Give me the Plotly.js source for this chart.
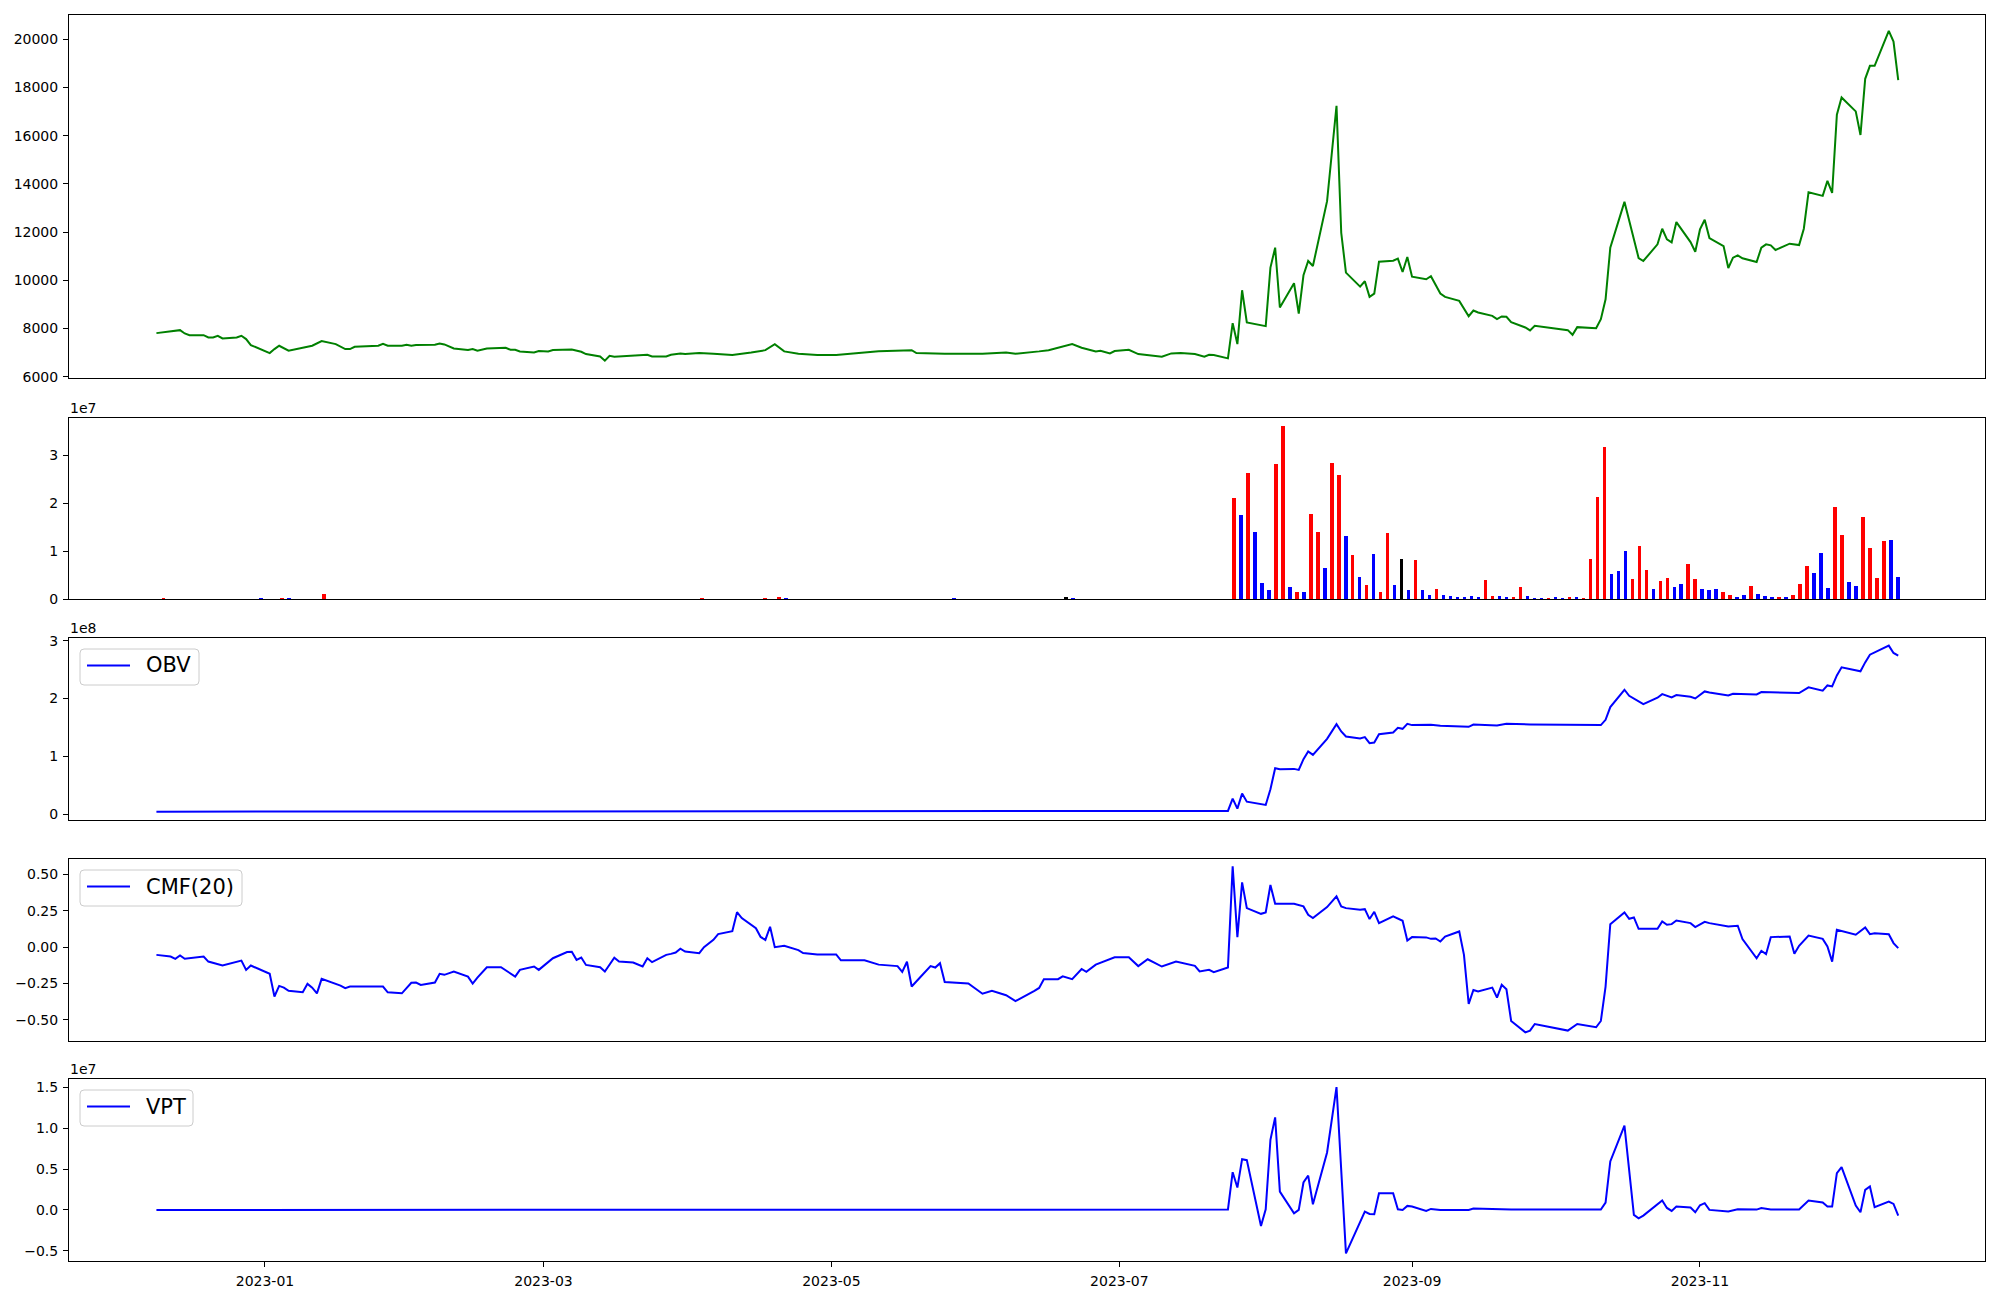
<!DOCTYPE html>
<html><head><meta charset="utf-8">
<script src="https://cdn.plot.ly/plotly-3.0.1.min.js"></script>
<style>html,body{margin:0;padding:0;background:#fff}</style>
</head><body><div id="chart" style="width:2000px;height:1300px"></div>
<script>
// ---------------- DATA ----------------
const priceDates = [
 '2022-12-09','2022-12-12','2022-12-14','2022-12-15','2022-12-16','2022-12-19','2022-12-20','2022-12-21',
 '2022-12-22','2022-12-23','2022-12-26','2022-12-27','2022-12-28','2022-12-29','2023-01-02','2023-01-03',
 '2023-01-04','2023-01-06','2023-01-11','2023-01-13','2023-01-16','2023-01-18','2023-01-19','2023-01-20',
 '2023-01-25','2023-01-26','2023-01-27','2023-01-30','2023-01-31','2023-02-01','2023-02-02','2023-02-06',
 '2023-02-07','2023-02-08','2023-02-10','2023-02-13','2023-02-14','2023-02-15','2023-02-17','2023-02-21',
 '2023-02-22','2023-02-23','2023-02-24','2023-02-27','2023-02-28','2023-03-02','2023-03-03','2023-03-07',
 '2023-03-09','2023-03-10','2023-03-13','2023-03-14','2023-03-15','2023-03-16','2023-03-20','2023-03-21',
 '2023-03-23','2023-03-24','2023-03-27','2023-03-28','2023-03-30','2023-03-31','2023-04-03','2023-04-06',
 '2023-04-10','2023-04-14','2023-04-17','2023-04-19','2023-04-21','2023-04-24','2023-04-28','2023-05-02',
 '2023-05-09','2023-05-11','2023-05-18','2023-05-19','2023-05-25','2023-06-02','2023-06-07','2023-06-09',
 '2023-06-14','2023-06-16','2023-06-21','2023-06-23','2023-06-26','2023-06-27','2023-06-29','2023-06-30',
 '2023-07-03','2023-07-05','2023-07-10','2023-07-12','2023-07-14','2023-07-17','2023-07-19','2023-07-20',
 '2023-07-21','2023-07-24','2023-07-25','2023-07-26','2023-07-27','2023-07-28','2023-08-01','2023-08-02',
 '2023-08-03','2023-08-04','2023-08-07','2023-08-08','2023-08-09','2023-08-10','2023-08-11','2023-08-14',
 '2023-08-16','2023-08-17','2023-08-18','2023-08-21','2023-08-22','2023-08-23','2023-08-24','2023-08-25',
 '2023-08-28','2023-08-29','2023-08-30','2023-08-31','2023-09-01','2023-09-04','2023-09-05','2023-09-07',
 '2023-09-08','2023-09-11','2023-09-13','2023-09-14','2023-09-15','2023-09-18','2023-09-19','2023-09-20',
 '2023-09-21','2023-09-22','2023-09-25','2023-09-26','2023-09-27','2023-10-04','2023-10-05','2023-10-06',
 '2023-10-10','2023-10-11','2023-10-12','2023-10-13','2023-10-16','2023-10-19','2023-10-20','2023-10-23',
 '2023-10-24','2023-10-25','2023-10-26','2023-10-27','2023-10-30','2023-10-31','2023-11-01','2023-11-02',
 '2023-11-03','2023-11-06','2023-11-07','2023-11-08','2023-11-09','2023-11-10','2023-11-13','2023-11-14',
 '2023-11-15','2023-11-16','2023-11-17','2023-11-20','2023-11-22','2023-11-23','2023-11-24','2023-11-27',
 '2023-11-28','2023-11-29','2023-11-30','2023-12-01','2023-12-04','2023-12-05','2023-12-06','2023-12-07',
 '2023-12-08','2023-12-11','2023-12-12','2023-12-13'];
const priceVals = [
 7807,7890,7931,7793,7724,7724,7628,7628,
 7697,7586,7628,7697,7559,7310,6979,7145,
 7283,7076,7283,7476,7352,7145,7145,7241,
 7283,7366,7283,7283,7324,7283,7310,7324,
 7379,7338,7172,7103,7145,7076,7172,7200,
 7117,7117,7048,7007,7062,7048,7103,7131,
 7034,6938,6841,6662,6869,6828,6869,6910,
 6910,6841,6841,6910,6966,6938,6979,6950,
 6900,7000,7100,7350,7050,6950,6900,6900,
 7000,7050,7100,6980,6950,6950,7000,6950,
 7050,7100,7350,7200,7050,7076,6966,7062,
 7117,6938,6828,6966,6979,6938,6828,6910,
 6897,6759,8221,7352,9586,8248,8097,10524,
 11352,8869,9876,8621,10207,10800,10593,13283,
 17241,11972,10317,9738,9959,9310,9448,10772,
 10814,10897,10345,10966,10152,10041,10166,9448,
 9310,9145,8510,8745,8662,8524,8386,8497,
 8483,8262,8041,7917,8110,7931,7738,8055,
 8014,8386,9214,11352,13255,10924,10800,11490,
 12138,11697,11572,12414,11586,11186,12110,12510,
 11752,11421,10510,10938,11034,10910,10759,11352,
 11490,11448,11255,11517,11462,12138,13655,13503,
 14124,13628,16869,17586,17007,16028,18359,18897,
 18897,20345,19903,18303];

// Volume, in millions, one bar per evenly spaced slot between the first and last date
const volStart = '2022-12-09', volEnd = '2023-12-13';
const volM = [
 0,0.25,0,0,0,0,0,0,0,0,
 0,0,0,0,0,0.25,0,0,0.25,0.25,
 0,0,0,0,1.04,0,0,0,0,0,
 0,0,0,0,0,0,0,0,0,0,
 0,0,0,0,0,0,0,0,0,0,
 0,0,0,0,0,0,0,0,0,0,
 0,0,0,0,0,0,0,0,0,0,
 0,0,0,0,0,0,0,0,0.25,0,
 0,0,0,0,0,0,0,0.25,0,0.5,
 0.25,0,0,0,0,0,0,0,0,0,
 0,0,0,0,0,0,0,0,0,0,
 0,0,0,0,0.25,0,0,0,0,0,
 0,0,0,0,0,0,0,0,0,0,
 0.5,0.25,0,0,0,0,0,0,0,0,
 0,0,0,0,0,0,0,0,0,0,
 0,0,0,0,21.09,17.54,26.30,13.99,3.34,1.88,
 28.18,36.12,2.51,1.46,1.46,17.75,13.99,6.47,28.39,25.89,
 13.15,9.19,4.59,2.92,9.39,1.46,13.78,2.92,8.35,1.88,
 8.14,1.88,0.84,2.09,0.84,0.63,0.42,0.42,0.63,0.42,
 3.97,0.63,0.63,0.42,0.42,2.51,0.63,0.21,0.21,0.21,
 0.42,0.21,0.42,0.42,0.21,8.35,21.29,31.73,5.22,5.85,
 10.02,4.18,11.06,6.05,2.09,3.76,4.38,2.51,3.13,7.31,
 4.18,2.09,1.88,2.09,1.46,0.84,0.42,0.84,2.71,1.04,
 0.63,0.42,0.42,0.42,0.84,3.13,6.89,5.43,9.60,2.30,
 19.21,13.36,3.55,2.71,17.12,10.65,4.38,12.11,12.32,4.59];
// u = up (red), d = down (blue), n = unchanged (black)
const volDir = [
 'dudddddddd','ddddddddud','dddduddddd','dddddddddd','dddddddddd',
 'dddddddddd','dddddddddd','ddddddddud','dddddddudu','dddddddddd',
 'dddddddddd','dddddddddd','dddddddddd','nddddddddd','dddddddddd',
 'dddd',
 'ududdduudu','duuduududu','duudnduddu','dddddduudd','uuddduddud',
 'uuuuddduuu','duudduuddd','uuddudddud','uuuddduudd','uuuudd'].join('');

const obvDates = [
 '2022-12-09','2023-01-11','2023-01-12','2023-07-24','2023-07-25','2023-07-26','2023-07-27','2023-07-28',
 '2023-08-01','2023-08-02','2023-08-03','2023-08-04','2023-08-07','2023-08-08','2023-08-09','2023-08-10',
 '2023-08-11','2023-08-14','2023-08-16','2023-08-17','2023-08-18','2023-08-21','2023-08-22','2023-08-23',
 '2023-08-24','2023-08-25','2023-08-28','2023-08-29','2023-08-30','2023-08-31','2023-09-01','2023-09-05',
 '2023-09-07','2023-09-13','2023-09-14','2023-09-19','2023-09-21','2023-09-26','2023-10-11','2023-10-12',
 '2023-10-13','2023-10-16','2023-10-17','2023-10-19','2023-10-20','2023-10-23','2023-10-24','2023-10-26',
 '2023-10-27','2023-10-30','2023-10-31','2023-11-02','2023-11-03','2023-11-07','2023-11-08','2023-11-13',
 '2023-11-14','2023-11-22','2023-11-24','2023-11-27','2023-11-28','2023-11-29','2023-11-30','2023-12-01',
 '2023-12-05','2023-12-06','2023-12-07','2023-12-11','2023-12-12','2023-12-13'];
// OBV in units of 1e8
const obvVals = [
 0.046,0.046,0.058,0.058,0.271,0.098,0.358,0.219,
 0.162,0.433,0.796,0.779,0.785,0.767,0.952,1.085,
 1.027,1.304,1.558,1.431,1.344,1.310,1.333,1.229,
 1.241,1.385,1.414,1.495,1.477,1.564,1.541,1.546,
 1.529,1.512,1.552,1.535,1.564,1.552,1.541,1.633,
 1.852,2.152,2.048,1.950,1.904,2.014,2.077,2.020,
 2.060,2.031,2.002,2.123,2.106,2.054,2.083,2.072,
 2.112,2.095,2.193,2.135,2.227,2.210,2.400,2.539,
 2.470,2.625,2.758,2.914,2.787,2.741];

const cmfDates = [
 '2022-12-09','2022-12-12','2022-12-13','2022-12-14','2022-12-15','2022-12-19','2022-12-20','2022-12-23',
 '2022-12-27','2022-12-28','2022-12-29','2023-01-02','2023-01-03','2023-01-04','2023-01-05','2023-01-06',
 '2023-01-09','2023-01-10','2023-01-11','2023-01-12','2023-01-13','2023-01-16','2023-01-17','2023-01-18',
 '2023-01-19','2023-01-26','2023-01-27','2023-01-30','2023-02-01','2023-02-02','2023-02-03','2023-02-06',
 '2023-02-07','2023-02-08','2023-02-10','2023-02-13','2023-02-14','2023-02-15','2023-02-17','2023-02-20',
 '2023-02-23','2023-02-24','2023-02-27','2023-02-28','2023-03-03','2023-03-06','2023-03-07','2023-03-08',
 '2023-03-09','2023-03-10','2023-03-13','2023-03-14','2023-03-16','2023-03-17','2023-03-20','2023-03-22',
 '2023-03-23','2023-03-24','2023-03-27','2023-03-28','2023-03-29','2023-03-30','2023-03-31','2023-04-03',
 '2023-04-04','2023-04-06','2023-04-07','2023-04-10','2023-04-11','2023-04-12','2023-04-15','2023-04-16',
 '2023-04-17','2023-04-18','2023-04-19','2023-04-21','2023-04-24','2023-04-25','2023-04-28','2023-05-02',
 '2023-05-03','2023-05-08','2023-05-09','2023-05-11','2023-05-15','2023-05-16','2023-05-17','2023-05-18',
 '2023-05-20','2023-05-22','2023-05-23','2023-05-24','2023-05-25','2023-05-30','2023-06-02','2023-06-04',
 '2023-06-07','2023-06-09','2023-06-13','2023-06-14','2023-06-15','2023-06-18','2023-06-19','2023-06-21',
 '2023-06-23','2023-06-24','2023-06-26','2023-06-30','2023-07-03','2023-07-05','2023-07-07','2023-07-10',
 '2023-07-13','2023-07-17','2023-07-18','2023-07-20','2023-07-21','2023-07-24','2023-07-25','2023-07-26',
 '2023-07-27','2023-07-28','2023-07-31','2023-08-01','2023-08-02','2023-08-03','2023-08-07','2023-08-09',
 '2023-08-10','2023-08-11','2023-08-14','2023-08-16','2023-08-17','2023-08-18','2023-08-21','2023-08-22',
 '2023-08-23','2023-08-24','2023-08-25','2023-08-28','2023-08-30','2023-08-31','2023-09-01','2023-09-04',
 '2023-09-05','2023-09-06','2023-09-07','2023-09-08','2023-09-11','2023-09-12','2023-09-13','2023-09-14',
 '2023-09-15','2023-09-18','2023-09-19','2023-09-20','2023-09-21','2023-09-22','2023-09-25','2023-09-26',
 '2023-09-27','2023-10-04','2023-10-06','2023-10-10','2023-10-11','2023-10-12','2023-10-13','2023-10-16',
 '2023-10-17','2023-10-18','2023-10-19','2023-10-23','2023-10-24','2023-10-25','2023-10-26','2023-10-27',
 '2023-10-30','2023-10-31','2023-11-02','2023-11-03','2023-11-07','2023-11-09','2023-11-10','2023-11-13',
 '2023-11-14','2023-11-15','2023-11-16','2023-11-20','2023-11-21','2023-11-22','2023-11-24','2023-11-27',
 '2023-11-28','2023-11-29','2023-11-30','2023-12-04','2023-12-06','2023-12-07','2023-12-08','2023-12-11',
 '2023-12-12','2023-12-13'];
const cmfVals = [
 -0.053,-0.064,-0.080,-0.057,-0.080,-0.064,-0.099,-0.126,
 -0.092,-0.156,-0.126,-0.183,-0.339,-0.266,-0.278,-0.300,
 -0.310,-0.252,-0.278,-0.317,-0.218,-0.252,-0.264,-0.282,
 -0.271,-0.271,-0.310,-0.317,-0.245,-0.243,-0.259,-0.243,
 -0.183,-0.190,-0.167,-0.202,-0.250,-0.209,-0.138,-0.138,
 -0.202,-0.156,-0.133,-0.156,-0.076,-0.034,-0.032,-0.087,
 -0.071,-0.122,-0.138,-0.167,-0.073,-0.099,-0.106,-0.133,
 -0.076,-0.103,-0.053,-0.046,-0.037,-0.011,-0.030,-0.041,
 0.00,0.05,0.09,0.11,0.24,0.20,0.13,0.07,
 0.05,0.14,0.00,0.01,-0.02,-0.04,-0.05,-0.05,
 -0.09,-0.09,-0.10,-0.12,-0.13,-0.17,-0.10,-0.27,
 -0.20,-0.13,-0.14,-0.11,-0.24,-0.25,-0.32,-0.30,
 -0.33,-0.37,-0.30,-0.28,-0.22,-0.22,-0.20,-0.22,
 -0.15,-0.17,-0.12,-0.07,-0.07,-0.13,-0.083,-0.133,
 -0.099,-0.128,-0.167,-0.156,-0.172,-0.140,0.555,0.069,
 0.445,0.268,0.229,0.239,0.427,0.298,0.298,0.280,
 0.222,0.200,0.275,0.349,0.280,0.268,0.257,0.261,
 0.193,0.243,0.165,0.211,0.181,0.046,0.069,0.067,
 0.057,0.060,0.039,0.073,0.108,-0.053,-0.390,-0.294,
 -0.305,-0.278,-0.346,-0.259,-0.289,-0.507,-0.585,-0.573,
 -0.528,-0.573,-0.528,-0.550,-0.507,-0.271,0.158,0.239,
 0.195,0.204,0.126,0.126,0.177,0.154,0.158,0.183,
 0.165,0.138,0.174,0.165,0.142,0.147,0.055,-0.076,
 -0.025,-0.048,0.069,0.073,-0.046,0.009,0.080,0.057,
 0.005,-0.099,0.119,0.085,0.135,0.089,0.096,0.089,
 0.028,-0.007];

const vptDates = [
 '2022-12-09','2023-07-24','2023-07-25','2023-07-26','2023-07-27','2023-07-28','2023-07-31','2023-08-01',
 '2023-08-02','2023-08-03','2023-08-04','2023-08-07','2023-08-08','2023-08-09','2023-08-10','2023-08-11',
 '2023-08-14','2023-08-16','2023-08-18','2023-08-22','2023-08-23','2023-08-24','2023-08-25','2023-08-28',
 '2023-08-29','2023-08-30','2023-08-31','2023-09-01','2023-09-04','2023-09-05','2023-09-07','2023-09-13',
 '2023-09-14','2023-09-22','2023-10-11','2023-10-12','2023-10-13','2023-10-16','2023-10-18','2023-10-19',
 '2023-10-20','2023-10-24','2023-10-25','2023-10-26','2023-10-27','2023-10-30','2023-10-31','2023-11-01',
 '2023-11-02','2023-11-03','2023-11-07','2023-11-09','2023-11-13','2023-11-14','2023-11-16','2023-11-22',
 '2023-11-24','2023-11-27','2023-11-28','2023-11-29','2023-11-30','2023-12-01','2023-12-04','2023-12-05',
 '2023-12-06','2023-12-07','2023-12-08','2023-12-11','2023-12-12','2023-12-13'];
// VPT in units of 1e7
const vptVals = [
 0.000,0.004,0.461,0.273,0.620,0.608,-0.196,0.008,
 0.857,1.131,0.224,-0.041,0.000,0.335,0.420,0.069,
 0.702,1.502,-0.531,-0.020,-0.049,-0.053,0.204,0.204,
 0.008,0.000,0.049,0.041,-0.012,0.012,0.000,0.000,
 0.016,0.004,0.004,0.090,0.592,1.029,-0.061,-0.102,
 -0.069,0.114,0.024,-0.012,0.041,0.029,-0.029,0.057,
 0.082,0.000,-0.020,0.008,0.004,0.024,0.004,0.004,
 0.114,0.090,0.041,0.041,0.449,0.522,0.053,-0.029,
 0.245,0.286,0.033,0.102,0.073,-0.069];

// tick labels and legend labels
const xTickVals = ['2023-01-01','2023-03-01','2023-05-01','2023-07-01','2023-09-01','2023-11-01'];
const xTickText = ['2023-01','2023-03','2023-05','2023-07','2023-09','2023-11'];
const priceTicks = [6000,8000,10000,12000,14000,16000,18000,20000];
const volTickText = ['0','1','2','3'];
const obvTickText = ['0','1','2','3'];
const cmfTickVals = [-0.5,-0.25,0,0.25,0.5];
const cmfTickText = ['\u22120.50','\u22120.25','0.00','0.25','0.50'];
const vptTickVals = [-0.5,0,0.5,1.0,1.5];
const vptTickText = ['\u22120.5','0.0','0.5','1.0','1.5'];
const seriesNames = ['OBV', 'CMF(20)', 'VPT'];

// ---------------- BUILD ----------------
const W = 2000, H = 1300, ML = 69, MR = 15, MT = 15, MB = 39;
const PW = W - ML - MR, PH = H - MT - MB;
const px2x = p => (p - ML) / PW;
const px2y = p => (H - MB - p) / PH;

function evenDates(a, b, n) {
  const t0 = Date.parse(a + 'T00:00:00Z'), t1 = Date.parse(b + 'T00:00:00Z');
  const out = [];
  for (let i = 0; i < n; i++) out.push(new Date(t0 + (t1 - t0) * i / (n - 1)).toISOString().slice(0, 19).replace('T', ' '));
  return out;
}
const volDates = evenDates(volStart, volEnd, volM.length);
const dirColor = {u: '#ff0000', d: '#0000ff', n: '#000000'};
const volColors = volDir.split('').map(c => dirColor[c]);

const FONT = 'DejaVu Sans, Liberation Sans, sans-serif';
const xRange = ['2022-11-20 11:30', '2023-12-31 09:10'];
const line = {showline: true, mirror: true, linecolor: '#000', linewidth: 1, showgrid: false, zeroline: false};
const yBase = Object.assign({}, line, {ticks: 'outside', ticklen: 5, tickwidth: 1, tickcolor: '#000', tickmode: 'array', ticklabelstandoff: 2});
const xHidden = Object.assign({}, line, {type: 'date', range: xRange, ticks: '', showticklabels: false});

// panel pixel tops/bottoms
const panels = {y: [15, 378], y2: [418, 599], y3: [638, 820], y4: [859, 1041], y5: [1079, 1261]};
const dom = k => [px2y(panels[k][1]), px2y(panels[k][0])];

const traces = [
  {type: 'scatter', mode: 'lines', x: priceDates, y: priceVals, line: {color: '#008000', width: 2}, xaxis: 'x', yaxis: 'y', showlegend: false, name: 'Close'},
  {type: 'bar', x: volDates, y: volM.map(v => v * 1e6), marker: {color: volColors, line: {width: 0}}, width: 0.8 * 86400000, xaxis: 'x2', yaxis: 'y2', showlegend: false, name: 'Volume'},
  {type: 'scatter', mode: 'lines', x: obvDates, y: obvVals.map(v => v * 1e8), line: {color: '#0000ff', width: 2}, xaxis: 'x3', yaxis: 'y3', name: seriesNames[0], showlegend: false},
  {type: 'scatter', mode: 'lines', x: cmfDates, y: cmfVals, line: {color: '#0000ff', width: 2}, xaxis: 'x4', yaxis: 'y4', name: seriesNames[1], showlegend: false},
  {type: 'scatter', mode: 'lines', x: vptDates, y: vptVals.map(v => v * 1e7), line: {color: '#0000ff', width: 2}, xaxis: 'x5', yaxis: 'y5', name: seriesNames[2], showlegend: false}
];

// matplotlib-style legend boxes (upper left of each indicator panel)
const shapes = [], annotations = [];
const legendSpecs = [
  {name: seriesNames[0], panel: 'y3', width: 119},
  {name: seriesNames[1], panel: 'y4', width: 162},
  {name: seriesNames[2], panel: 'y5', width: 113}
];
legendSpecs.forEach(s => {
  const top = panels[s.panel][0] + 11, bot = top + 36, left = 80, right = left + s.width, r = 4;
  const x0 = px2x(left), x1 = px2x(right), yT = px2y(top), yB = px2y(bot);
  const rx = r / PW, ry = r / PH;
  const path = `M${x0 + rx},${yT} L${x1 - rx},${yT} Q${x1},${yT} ${x1},${yT - ry} L${x1},${yB + ry} Q${x1},${yB} ${x1 - rx},${yB} ` +
               `L${x0 + rx},${yB} Q${x0},${yB} ${x0},${yB + ry} L${x0},${yT - ry} Q${x0},${yT} ${x0 + rx},${yT} Z`;
  shapes.push({type: 'path', xref: 'paper', yref: 'paper', path: path, fillcolor: 'rgba(255,255,255,0.8)', line: {color: '#cccccc', width: 1}, layer: 'above'});
  const ly = top + 16.5;
  shapes.push({type: 'line', xref: 'paper', yref: 'paper', x0: px2x(87), x1: px2x(130), y0: px2y(ly), y1: px2y(ly), line: {color: '#0000ff', width: 2}, layer: 'above'});
  annotations.push({text: s.name, xref: 'paper', yref: 'paper', x: px2x(145), y: px2y(ly), xanchor: 'left', yanchor: 'middle', showarrow: false, borderpad: 0, font: {family: FONT, size: 21, color: '#000'}});
});

// scientific offset labels
[['1e7', 'y2'], ['1e8', 'y3'], ['1e7', 'y5']].forEach(([t, k]) => {
  annotations.push({text: t, xref: 'paper', yref: 'paper', x: 0, y: px2y(panels[k][0]), xanchor: 'left', yanchor: 'bottom', showarrow: false, font: {family: FONT, size: 14, color: '#000'}, borderpad: 0, yshift: 1});
});

const layout = {
  width: W, height: H,
  margin: {l: ML, r: MR, t: MT, b: MB, pad: 0},
  paper_bgcolor: '#fff', plot_bgcolor: '#fff',
  font: {family: FONT, size: 14, color: '#000'},
  showlegend: false,
  bargap: 0,
  xaxis:  Object.assign({}, xHidden, {anchor: 'y', domain: [0, 1]}),
  xaxis2: Object.assign({}, xHidden, {anchor: 'y2', domain: [0, 1]}),
  xaxis3: Object.assign({}, xHidden, {anchor: 'y3', domain: [0, 1]}),
  xaxis4: Object.assign({}, xHidden, {anchor: 'y4', domain: [0, 1]}),
  xaxis5: Object.assign({}, line, {anchor: 'y5', domain: [0, 1], type: 'date', range: xRange, ticks: 'outside', ticklen: 5, tickwidth: 1, tickcolor: '#000', tickmode: 'array', tickvals: xTickVals, ticktext: xTickText, ticklabelstandoff: 2}),
  yaxis:  Object.assign({}, yBase, {anchor: 'x', domain: dom('y'), range: [5945, 21007], tickvals: priceTicks, ticktext: priceTicks.map(String)}),
  yaxis2: Object.assign({}, yBase, {anchor: 'x2', domain: dom('y2'), range: [0, 3.772e7], tickvals: [0, 1e7, 2e7, 3e7], ticktext: volTickText}),
  yaxis3: Object.assign({}, yBase, {anchor: 'x3', domain: dom('y3'), range: [-0.098e8, 3.046e8], tickvals: [0, 1e8, 2e8, 3e8], ticktext: obvTickText}),
  yaxis4: Object.assign({}, yBase, {anchor: 'x4', domain: dom('y4'), range: [-0.6445, 0.6055], tickvals: cmfTickVals, ticktext: cmfTickText}),
  yaxis5: Object.assign({}, yBase, {anchor: 'x5', domain: dom('y5'), range: [-0.6245e7, 1.6e7], tickvals: vptTickVals.map(v => v * 1e7), ticktext: vptTickText}),
  shapes: shapes,
  annotations: annotations
};

Plotly.newPlot('chart', traces, layout, {displayModeBar: false, staticPlot: true});
</script></body></html>
